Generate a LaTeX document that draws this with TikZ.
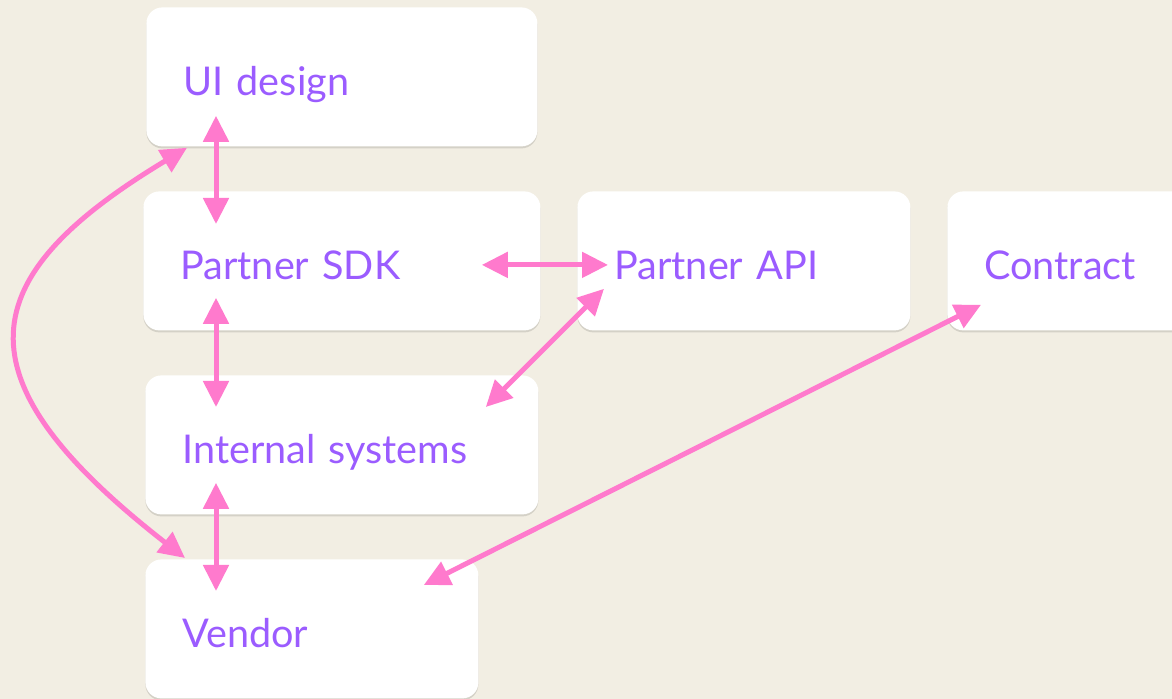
\documentclass[tikz,border=0pt]{standalone}
\usepackage{fontspec}
\setmainfont{Lato}
\usetikzlibrary{arrows.meta,shadows}
\definecolor{paper}{HTML}{F2EEE3}
\definecolor{label}{HTML}{9B5CFF}
\definecolor{wire}{HTML}{FF7ACD}

\begin{document}
\begin{tikzpicture}[x=0.5pt,y=-0.5pt,
    box/.style={fill=white,rounded corners=8pt,anchor=north west,minimum height=69.5pt,
        inner xsep=18.5pt,inner ysep=0pt,text height=18.5pt,text depth=0pt,align=left,
        text=label,font=\fontsize{19.8}{24}\selectfont,
        drop shadow={shadow xshift=0pt,shadow yshift=-1pt,opacity=0.12,fill=black}},
    wide/.style={box,text width=160pt},
    narrow/.style={box,text width=129.5pt},
    link/.style={draw=wire,line width=2.5pt,{Triangle[length=13pt,width=12.5pt]}-{Triangle[length=13pt,width=12.5pt]}}
]
\useasboundingbox (0,0) rectangle (1172,699);
\clip (0,0) rectangle (1172,699);
\fill[paper] (0,0) rectangle (1172,699);

% boxes
\node[wide,text width=158.5pt] (ui) at (146,7) {UI design};
\node[wide,text width=161.5pt] (sdk) at (143,191) {Partner SDK};
\node[narrow] (api) at (577,191) {Partner API};
\node[narrow] (contract) at (947,191) {Contract};
\node[wide,text width=159.5pt] (int) at (145,375) {Internal systems};
\node[narrow] (vendor) at (145,559) {Vendor};

% links
\draw[link] ([shift={(70,-31)}]ui.south west) -- ([shift={(73,33)}]sdk.north west);
\draw[link] ([shift={(73,-33)}]sdk.south west) -- ([shift={(71,32)}]int.north west);
\draw[link] ([shift={(71,-32)}]int.south west) -- ([shift={(71,32)}]vendor.north west);
\draw[link] ([shift={(-59,4)}]sdk.east) -- ([shift={(31,4)}]api.west);
\draw[link] ([shift={(27,-42)}]api.south west) -- ([shift={(-53,32)}]int.north east);
\draw[link] ([shift={(34,-26)}]contract.south west) -- ([shift={(-55,26)}]vendor.north east);
\draw[link] ([shift={(41,1)}]ui.south west) .. controls +(-216,130) and +(-231,-180) .. ([shift={(40,-1)}]vendor.north west);
\end{tikzpicture}
\end{document}
